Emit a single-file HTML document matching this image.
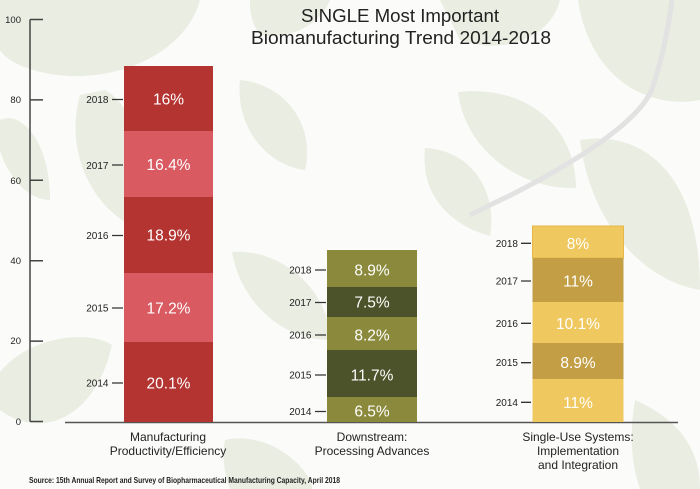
<!DOCTYPE html>
<html><head><meta charset="utf-8"><style>
html,body{margin:0;padding:0;background:#fff;}
svg{display:block;}
text{font-family:"Liberation Sans",Arial,sans-serif;}
</style></head><body>
<svg width="700" height="489" viewBox="0 0 700 489" xmlns="http://www.w3.org/2000/svg">
<rect width="700" height="489" fill="#fbfbf9"/>
<!-- background leaves -->
<g fill="#eaede2">
<path d="M0,0 L200,0 C190,40 140,78 70,76 C30,74 5,60 0,50 Z"/>
<path d="M105,90 C140,110 150,170 125,222 C90,200 65,150 80,95 Z"/>
<path d="M240,80 C290,85 315,130 305,170 C265,165 235,125 240,80 Z"/>
<path d="M425,148 C470,150 498,190 490,236 C450,225 420,195 425,148 Z"/>
<path d="M458,92 C520,85 575,120 576,188 C520,190 465,150 458,92 Z"/>
<path d="M578,0 L700,0 L700,100 C650,110 590,80 578,0 Z"/>
<path d="M580,140 C640,130 700,170 700,290 C640,280 590,220 580,140 Z"/>
<path d="M0,372 C30,335 90,330 112,345 C95,420 40,440 0,410 Z"/>
<path d="M232,252 C280,248 330,290 330,340 C280,340 240,300 232,252 Z"/>
<path d="M635,400 C680,420 700,450 700,489 L640,489 C630,460 630,430 635,400 Z"/>
<path d="M225,440 C270,430 312,470 312,489 L230,489 C224,475 222,455 225,440 Z"/>
<path d="M250,0 L330,0 C320,25 290,40 260,35 C250,20 250,10 250,0 Z"/>
<path d="M440,0 L560,0 C550,40 500,55 460,40 Z"/>
<path d="M0,120 C20,110 50,140 50,200 C25,200 5,170 0,150 Z"/>
</g>
<path d="M470,215 C490,205 500,200 509,196 C580,160 640,120 652,89 C662,60 668,30 672,0" fill="none" stroke="#e2e2e2" stroke-width="5"/>

<!-- title -->
<text x="400" y="22" font-size="18.5" fill="#222" text-anchor="middle" textLength="198" lengthAdjust="spacingAndGlyphs">SINGLE Most Important</text>
<text x="401" y="44" font-size="18.5" fill="#222" text-anchor="middle" textLength="300" lengthAdjust="spacingAndGlyphs">Biomanufacturing Trend 2014-2018</text>

<!-- y axis -->
<g stroke="#444" stroke-width="1.5" fill="none">
<path d="M30,19.5 V421.5"/>
<path d="M30,19.5 H43 M30,99.9 H43 M30,180.3 H43 M30,260.7 H43 M30,341.1 H43 M30,421.5 H43"/>
</g>
<g font-size="9.5" fill="#222" text-anchor="end">
<text x="21" y="23">100</text>
<text x="21" y="103">80</text>
<text x="21" y="184">60</text>
<text x="21" y="264">40</text>
<text x="21" y="344">20</text>
<text x="21" y="425">0</text>
</g>

<!-- baseline -->
<path d="M65,422.5 H678" stroke="#555" stroke-width="1.5"/>

<!-- bar 1 -->
<rect x="124" y="66" width="89" height="65" fill="#b33431"/>
<rect x="124" y="131" width="89" height="66" fill="#d95a61"/>
<rect x="124" y="197" width="89" height="76" fill="#b33431"/>
<rect x="124" y="273" width="89" height="69" fill="#d95a61"/>
<rect x="124" y="342" width="89" height="80" fill="#b33431"/>
<g font-size="15.5" fill="#fff" text-anchor="middle">
<text x="168.5" y="104.5">16%</text>
<text x="168.5" y="170">16.4%</text>
<text x="168.5" y="240.5">18.9%</text>
<text x="168.5" y="313.5">17.2%</text>
<text x="168.5" y="388.5">20.1%</text>
</g>
<g font-size="10" fill="#222" text-anchor="end">
<text x="108.5" y="103">2018</text>
<text x="108.5" y="169">2017</text>
<text x="108.5" y="239">2016</text>
<text x="108.5" y="311.5">2015</text>
<text x="108.5" y="386.5">2014</text>
</g>
<g stroke="#333" stroke-width="1.3">
<path d="M112,99.5 H123 M112,165 H123 M112,235.5 H123 M112,308 H123 M112,383 H123"/>
</g>

<!-- bar 2 -->
<rect x="327" y="250" width="90" height="37" fill="#8b8a3c"/>
<rect x="327" y="287" width="90" height="30" fill="#4c5229"/>
<rect x="327" y="317" width="90" height="33" fill="#8b8a3c"/>
<rect x="327" y="350" width="90" height="47" fill="#4c5229"/>
<rect x="327" y="397" width="90" height="25" fill="#8b8a3c"/>
<g font-size="15.5" fill="#fff" text-anchor="middle">
<text x="372" y="275.5">8.9%</text>
<text x="372" y="307.5">7.5%</text>
<text x="372" y="340.5">8.2%</text>
<text x="372" y="380.5">11.7%</text>
<text x="372" y="416.5">6.5%</text>
</g>
<g font-size="10" fill="#222" text-anchor="end">
<text x="311.5" y="273.5">2018</text>
<text x="311.5" y="306">2017</text>
<text x="311.5" y="338.5">2016</text>
<text x="311.5" y="378.5">2015</text>
<text x="311.5" y="415">2014</text>
</g>
<g stroke="#333" stroke-width="1.3">
<path d="M315,270 H326 M315,302.5 H326 M315,335 H326 M315,375 H326 M315,411.5 H326"/>
</g>

<!-- bar 3 -->
<rect x="532.5" y="226" width="91" height="32" fill="#f0c860" stroke="#e6b845" stroke-width="1"/>
<rect x="532.5" y="258" width="91" height="44" fill="#c39e45"/>
<rect x="532.5" y="302" width="91" height="41" fill="#f0c860"/>
<rect x="532.5" y="343" width="91" height="36" fill="#c39e45"/>
<rect x="532.5" y="379" width="91" height="43" fill="#f0c860"/>
<g font-size="15.5" fill="#fff" text-anchor="middle">
<text x="578" y="249">8%</text>
<text x="578" y="286.5">11%</text>
<text x="578" y="329">10.1%</text>
<text x="578" y="368">8.9%</text>
<text x="578" y="408">11%</text>
</g>
<g font-size="10" fill="#222" text-anchor="end">
<text x="518" y="247">2018</text>
<text x="518" y="284.5">2017</text>
<text x="518" y="327">2016</text>
<text x="518" y="366">2015</text>
<text x="518" y="406">2014</text>
</g>
<g stroke="#333" stroke-width="1.3">
<path d="M521,243.3 H531 M521,281 H531 M521,323.3 H531 M521,362.7 H531 M521,402.3 H531"/>
</g>

<!-- category labels -->
<g font-size="12" fill="#222" text-anchor="middle">
<text x="168" y="441">Manufacturing</text>
<text x="168" y="455">Productivity/Efficiency</text>
<text x="372" y="441">Downstream:</text>
<text x="372" y="455">Processing Advances</text>
<text x="578" y="441">Single-Use Systems:</text>
<text x="578" y="455">Implementation</text>
<text x="578" y="469">and Integration</text>
</g>

<!-- source -->
<text x="29" y="483" font-size="8.5" font-weight="bold" fill="#222" textLength="311" lengthAdjust="spacingAndGlyphs">Source: 15th Annual Report and Survey of Biopharmaceutical Manufacturing Capacity, April 2018</text>
</svg>
</body></html>
